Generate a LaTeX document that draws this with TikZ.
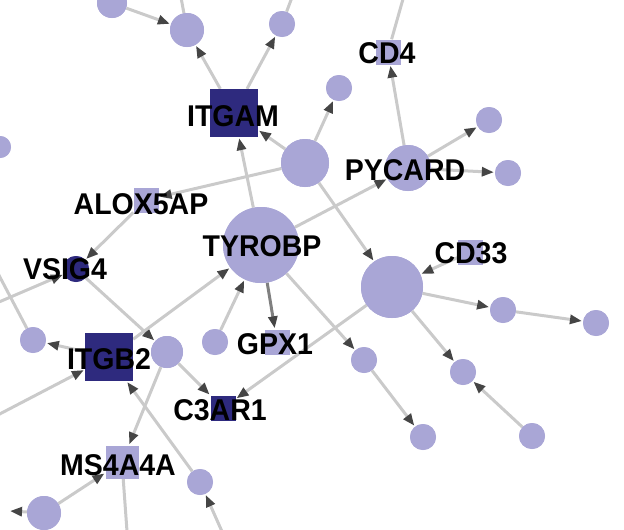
\documentclass[tikz,border=0pt]{standalone}
\usepackage{fontspec}
\setmainfont{Liberation Sans}
\usetikzlibrary{arrows.meta}
\definecolor{lightn}{HTML}{A9A6D6}
\definecolor{darkn}{HTML}{2E2A7E}
\definecolor{edgec}{HTML}{CACACA}
\definecolor{arrc}{HTML}{454545}
\tikzset{
 lc/.style={circle,fill=lightn,draw=none,inner sep=0pt,minimum size=#1},
 dc/.style={circle,fill=darkn,draw=none,inner sep=0pt,minimum size=#1},
 lsq/.style={rectangle,fill=lightn,draw=none,inner sep=0pt,minimum size=#1},
 dsq/.style={rectangle,fill=darkn,draw=none,inner sep=0pt,minimum size=#1},
 e/.style={draw=edgec,line width=3pt,-{Triangle[length=12pt,width=9pt,color=arrc]},shorten >=1pt},
 pl/.style={draw=edgec,line width=3pt},
 lab/.style={anchor=base,inner sep=0pt,font=\fontsize{30}{30}\selectfont\bfseries,xscale=0.95}
}
\begin{document}
\begin{tikzpicture}[x=1pt,y=-1pt]
\useasboundingbox (0,0) rectangle (624,530);
\clip (0,0) rectangle (624,530);
% coordinates off canvas
\coordinate (t1) at (180,-8);
\coordinate (t2) at (294,-8);
\coordinate (t3) at (405,-8);
\coordinate (tl) at (-8,262);
\coordinate (l1) at (-8,305);
\coordinate (l2) at (-8,418);
\coordinate (l3) at (10,511);
\coordinate (b1) at (228,545);
\coordinate (b2) at (128,545);
% nodes
\node[lc=30pt] (c0) at (112,3) {};
\node[lc=22pt] (c9) at (0,147) {};
\node[lc=34pt] (n1) at (187,30) {};
\node[lc=26pt] (n2) at (282,24) {};
\node[dsq=48pt] (itgam) at (234,113) {};
\node[lc=26pt] (n3) at (339,88) {};
\node[lsq=25pt] (cd4) at (388,52) {};
\node[lc=48pt] (hubA) at (305,163) {};
\node[lc=46pt] (pycard) at (408,168) {};
\node[lc=26pt] (n4) at (489,120) {};
\node[lc=26pt] (n5) at (508,173) {};
\node[lsq=25pt] (alox) at (146,200) {};
\node[lc=76pt] (tyrobp) at (261,245) {};
\node[dc=26pt] (vsig4) at (76,269) {};
\node[lsq=25pt] (cd33) at (470,252) {};
\node[lc=62pt] (hubB) at (392,287) {};
\node[lc=26pt] (n6) at (33,340) {};
\node[dsq=48pt] (itgb2) at (109,357) {};
\node[lc=32pt] (n7) at (167,352) {};
\node[lc=26pt] (n8) at (215,342) {};
\node[lsq=25pt] (gpx1) at (277,342) {};
\node[lc=26pt] (n9) at (364,360) {};
\node[lc=26pt] (n10) at (503,310) {};
\node[lc=26pt] (n11) at (596,323) {};
\node[lc=26pt] (n12) at (463,372) {};
\node[dsq=25pt] (c3ar1) at (223,408) {};
\node[lc=26pt] (n13) at (423,437) {};
\node[lc=26pt] (n14) at (532,436) {};
\node[lsq=33pt] (ms4a4a) at (122,462) {};
\node[lc=26pt] (n15) at (200,482) {};
\node[lc=34pt] (n16) at (44,513) {};
% edges
\begin{scope}[on background layer/.style={}]
\end{scope}
\path (c0) edge[e] (n1);
\path (n1) edge[pl] (t1);
\path (n2) edge[pl] (t2);
\path (itgam) edge[e] (n1);
\path (itgam) edge[e] (n2);
\path (hubA) edge[e] (itgam);
\path (tyrobp) edge[e] (itgam);
\path (hubA) edge[e] (n3);
\path (hubA) edge[e] (alox);
\path (hubA) edge[e] (hubB);
\path (pycard) edge[e] (cd4);
\path (cd4) edge[pl] (t3);
\path (pycard) edge[e] (n4);
\path (pycard) edge[e] (n5);
\path (tyrobp) edge[e] (pycard);
\path (alox) edge[e] (vsig4);
\path (vsig4) edge[e] (n7);
\path (itgb2) edge[e] (tyrobp);
\path (n8) edge[e] (tyrobp);
\path (tyrobp) edge[e,draw=gray] (gpx1);
\path (n7) edge[e] (c3ar1);
\path (hubB) edge[e] (c3ar1);
\path (tyrobp) edge[e] (n9);
\path (n9) edge[e] (n13);
\path (hubB) edge[e] (n10);
\path (n10) edge[e] (n11);
\path (hubB) edge[e] (n12);
\path (n14) edge[e] (n12);
\path (cd33) edge[e] (hubB);
\path (n6) edge[pl] (tl);
\path (l1) edge[e] (vsig4);
\path (itgb2) edge[e] (n6);
\path (l2) edge[e] (itgb2);
\path (n7) edge[e] (ms4a4a);
\path (n15) edge[e] (itgb2);
\path (b1) edge[e] (n15);
\path (n16) edge[e] (ms4a4a);
\path (n16) edge[e,shorten >=0pt] (l3);
\path (ms4a4a) edge[pl] (b2);
% redraw nodes on top of edges
\foreach \n/\s/\c in {c0/30pt/lc,c9/22pt/lc,n1/34pt/lc,n2/26pt/lc,itgam/48pt/dsq,n3/26pt/lc,cd4/25pt/lsq,hubA/48pt/lc,pycard/46pt/lc,n4/26pt/lc,n5/26pt/lc,alox/25pt/lsq,tyrobp/76pt/lc,vsig4/26pt/dc,cd33/25pt/lsq,hubB/62pt/lc,n6/26pt/lc,itgb2/48pt/dsq,n7/32pt/lc,n8/26pt/lc,gpx1/25pt/lsq,n9/26pt/lc,n10/26pt/lc,n11/26pt/lc,n12/26pt/lc,c3ar1/25pt/dsq,n13/26pt/lc,n14/26pt/lc,ms4a4a/33pt/lsq,n15/26pt/lc,n16/34pt/lc}
  \node[\c=\s] at (\n) {};
% labels
\node[lab] (litgam) at (233,126) {ITGAM};
\node[lab] (lcd4) at (387,63) {CD4};
\node[lab] (lpycard) at (405,180) {PYCARD};
\node[lab] (lalox) at (141,214) {ALOX5AP};
\node[lab] (ltyrobp) at (262,256) {TYROBP};
\node[lab] (lvsig4) at (65,279) {VSIG4};
\node[lab] (lcd33) at (471,263) {CD33};
\node[lab] (litgb2) at (109,369) {ITGB2};
\node[lab] (lgpx1) at (275,354) {GPX1};
\node[lab] (lc3ar1) at (220,420) {C3AR1};
\node[lab] (lms4a4a) at (118,475) {MS4A4A};
\end{tikzpicture}
\end{document}
